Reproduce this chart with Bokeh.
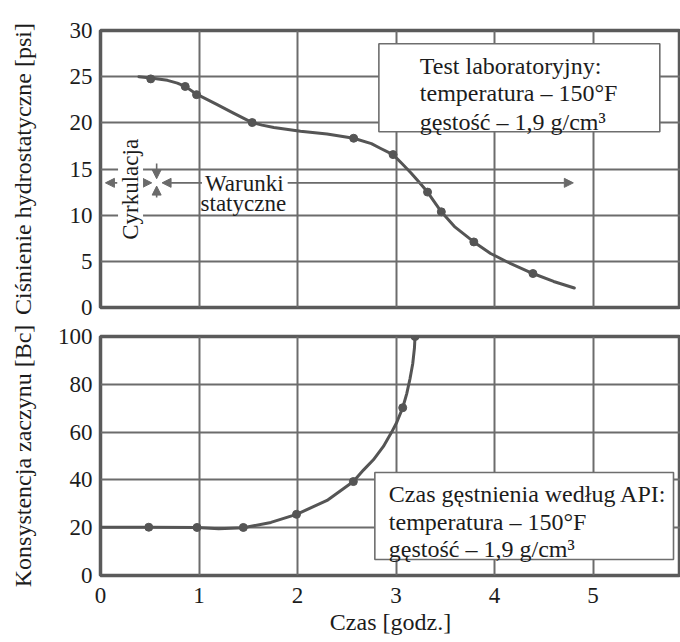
from math import pi
from bokeh.plotting import figure
from bokeh.layouts import column
from bokeh.models import Range1d, FixedTicker, Label, BoxAnnotation, Arrow, NormalHead, Title
from bokeh.embed import file_html
from bokeh.resources import INLINE

# ---------------- data ----------------
# upper panel: hydrostatic pressure [psi] vs time [h]
press_t = [0.51, 0.86, 0.975, 1.54, 2.57, 2.97, 3.32, 3.46, 3.79, 4.39]
press_v = [24.76, 23.94, 23.05, 20.03, 18.33, 16.56, 12.5, 10.36, 7.1, 3.68]
press_curve_t = [0.39, 0.51, 0.68, 0.78, 0.86, 0.975, 1.08, 1.18, 1.35, 1.54,
                 1.64, 1.76, 2.03, 2.30, 2.57, 2.75, 2.84, 2.97, 3.06, 3.15,
                 3.24, 3.32, 3.46, 3.60, 3.79, 3.96, 4.13, 4.39, 4.60, 4.81]
press_curve_v = [25.0, 24.85, 24.6, 24.3, 23.95, 23.1, 22.55, 22.0, 21.05, 20.03,
                 19.75, 19.5, 19.1, 18.8, 18.33, 17.75, 17.25, 16.56, 15.6, 14.6,
                 13.5, 12.5, 10.36, 8.7, 7.1, 5.85, 4.93, 3.68, 2.82, 2.11]

# lower panel: slurry consistency [Bc] vs time [h]
cons_t = [0.49, 0.98, 1.45, 1.99, 2.567, 3.068, 3.193]
cons_v = [20.2, 20.1, 20.1, 25.6, 39.3, 70.2, 100.0]
cons_curve_t = [0.0, 0.49, 0.98, 1.20, 1.45, 1.73, 1.99, 2.30, 2.567, 2.669,
                2.77, 2.872, 2.956, 3.007, 3.068, 3.109, 3.142, 3.17, 3.187, 3.193]
cons_curve_v = [20.2, 20.2, 20.1, 19.6, 20.0, 22.2, 25.6, 31.4, 39.3, 44.1,
                48.4, 54.0, 60.0, 64.0, 70.2, 76.1, 82.3, 88.7, 95.1, 100.0]

x_ticks = [0, 1, 2, 3, 4, 5]
press_ticks = [0, 5, 10, 15, 20, 25, 30]
cons_ticks = [0, 20, 40, 60, 80, 100]

box1_lines = ["Test laboratoryjny:", "temperatura \u2013 150\u00b0F", "g\u0119sto\u015b\u0107 \u2013 1,9 g/cm\u00b3"]
box2_lines = ["Czas g\u0119stnienia wed\u0142ug API:", "temperatura \u2013 150\u00b0F", "g\u0119sto\u015b\u0107 \u2013 1,9 g/cm\u00b3"]

# ---------------- styling ----------------
FONT = "'Liberation Serif', 'Times New Roman', serif"
INK = "#555555"
GRID = "#6c6c6c"
FRAME = "#5a5a5a"
TXT = "#1c1c1c"
ARROW = "#6a6a6a"
X_END = 5.888


def make_fig(height, y_end, yticks, mbt, mbb, ylabel, ylab_standoff):
    p = figure(width=680, height=height, x_range=Range1d(0, X_END), y_range=Range1d(0, y_end),
               output_backend="svg", toolbar_location=None,
               min_border_left=100, min_border_right=0, min_border_top=mbt, min_border_bottom=mbb)
    p.background_fill_color = "white"
    p.border_fill_color = "white"
    p.outline_line_color = FRAME
    p.outline_line_width = 3.5
    p.xgrid.ticker = FixedTicker(ticks=[1, 2, 3, 4, 5])
    p.ygrid.ticker = FixedTicker(ticks=yticks)
    for g in (p.xgrid, p.ygrid):
        g.grid_line_color = GRID
        g.grid_line_width = 2
        g.grid_line_alpha = 1
    for ax in (p.xaxis, p.yaxis):
        ax.axis_line_color = None
        ax.major_tick_line_color = None
        ax.minor_tick_line_color = None
        ax.major_tick_out = 0
        ax.major_tick_in = 0
        ax.minor_tick_out = 0
        ax.major_label_standoff = 8
        ax.major_label_text_font = FONT
        ax.major_label_text_font_size = "23px"
        ax.major_label_text_color = TXT
        ax.axis_label_text_font = FONT
        ax.axis_label_text_font_size = "24px"
        ax.axis_label_text_font_style = "normal"
        ax.axis_label_text_color = TXT
    p.xaxis.major_label_standoff = 12
    p.yaxis.ticker = FixedTicker(ticks=yticks)
    p.xaxis.ticker = FixedTicker(ticks=x_ticks)
    p.yaxis.axis_label = ylabel
    p.yaxis.axis_label_standoff = ylab_standoff
    return p


def box_text(p, x, ys, lines):
    for yy, t in zip(ys, lines):
        p.add_layout(Label(x=x, y=yy, text=t, text_font=FONT, text_font_size="24px",
                           text_color=TXT, text_align="left", text_baseline="alphabetic"))


def arrow(p, xs, ys, xe, ye):
    p.add_layout(Arrow(x_start=xs, y_start=ys, x_end=xe, y_end=ye, line_color=ARROW, line_width=1.6,
                       end=NormalHead(size=9, fill_color=ARROW, line_color=ARROW, line_width=1)))


# ---------------- upper panel ----------------
top = make_fig(321, 30, press_ticks, 30, 14, "Ci\u015bnienie hydrostatyczne [psi]", 31)
top.xaxis.visible = False
top.line(press_curve_t, press_curve_v, line_color=INK, line_width=3, line_join="round", line_cap="round")
top.scatter(press_t, press_v, size=8, fill_color=INK, line_color=INK)

# circulation / static-conditions annotation
arrow(top, 0.17, 13.5, 0.05, 13.5)
arrow(top, 0.42, 13.5, 0.52, 13.5)
arrow(top, 0.57, 15.6, 0.57, 13.95)
arrow(top, 0.57, 11.9, 0.57, 13.15)
arrow(top, 1.03, 13.5, 0.625, 13.5)
arrow(top, 1.90, 13.5, 4.80, 13.5)
top.add_layout(Label(x=0.305, y=12.8, text="Cyrkulacja", angle=pi / 2, text_font=FONT,
                     text_font_size="23px", text_color=TXT, text_align="center", text_baseline="middle",
                     background_fill_color="white", background_fill_alpha=1))
top.add_layout(Label(x=1.46, y=13.45, text="Warunki", text_font=FONT, text_font_size="23px",
                     text_color=TXT, text_align="center", text_baseline="middle"))
top.add_layout(Label(x=1.45, y=11.25, text="statyczne", text_font=FONT, text_font_size="23px",
                     text_color=TXT, text_align="center", text_baseline="middle"))

top.add_layout(BoxAnnotation(left=2.826, right=5.678, bottom=19.03, top=28.57,
                             fill_color="white", fill_alpha=1, line_color="#6e6e6e",
                             line_alpha=1, line_width=1.6))
box_text(top, 3.242, [26.16, 23.19, 20.05], box1_lines)

# ---------------- lower panel ----------------
bot = make_fig(321, 100, cons_ticks, 15, 67, "Konsystencja zaczynu [Bc]", 19)
bot.line(cons_curve_t, cons_curve_v, line_color=INK, line_width=3, line_join="round", line_cap="round")
bot.scatter(cons_t, cons_v, size=8, fill_color=INK, line_color=INK)
bot.add_layout(BoxAnnotation(left=2.785, right=5.817, bottom=6.7, top=43.1,
                             fill_color="white", fill_alpha=1, line_color="#6e6e6e",
                             line_alpha=1, line_width=1.6))
box_text(bot, 2.927, [33.9, 22.4, 10.9], box2_lines)
bot.add_layout(Title(text="Czas [godz.]", align="center", offset=14, standoff=2,
                     text_font=FONT, text_font_size="24px", text_font_style="normal",
                     text_color=TXT), "below")

layout = column(top, bot, spacing=0)
open("out.html", "w").write(file_html(layout, INLINE))
